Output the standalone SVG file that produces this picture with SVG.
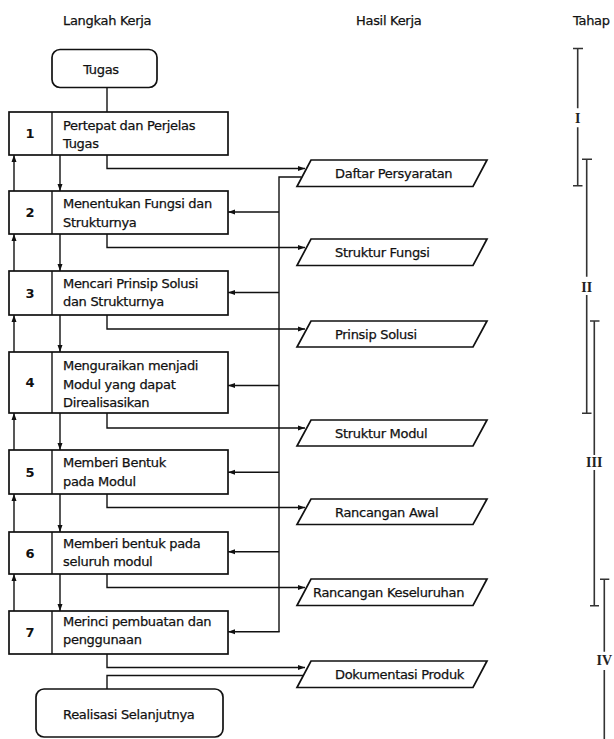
<svg xmlns="http://www.w3.org/2000/svg" width="614" height="739" viewBox="0 0 614 739">
<style>
  .t { font-family: "DejaVu Sans", Verdana, sans-serif; font-size: 13px; letter-spacing: -0.3px; fill: #111; stroke: #111; stroke-width: 0.25; }
  .num { font-family: "DejaVu Sans", Verdana, sans-serif; font-size: 13px; font-weight: bold; fill: #111; text-anchor: middle; }
  .rom { font-family: "Liberation Serif", "Times New Roman", serif; font-size: 14px; font-weight: bold; fill: #222; text-anchor: middle; }
  .box { fill: #fff; stroke: #111; stroke-width: 1.7; }
  .ln { fill: none; stroke: #111; stroke-width: 1.4; }
  .ar { fill: none; stroke: #111; stroke-width: 1.4; marker-end: url(#ah); }
  .tp { fill: none; stroke: #333; stroke-width: 1.6; }
</style>
<defs>
  <marker id="ah" markerUnits="userSpaceOnUse" markerWidth="8" markerHeight="6" refX="7" refY="3" orient="auto">
    <path d="M0,0.5 L7,3 L0,5.5 z" fill="#111"/>
  </marker>
</defs>
<rect width="614" height="739" fill="#fff"/>

<g id="headers">
  <text class="t" x="63" y="25">Langkah Kerja</text>
  <text class="t" x="356" y="25">Hasil Kerja</text>
  <text class="t" x="573" y="25">Tahap</text>
</g>

<g id="connectors">
  <line class="ln" x1="107" y1="87.5" x2="107" y2="112"/>
  <polyline class="ar" points="107,155 107,168.5 305,168.5"/>
  <polyline class="ar" points="107,234 107,247.5 305,247.5"/>
  <polyline class="ar" points="107,315 107,329 305,329"/>
  <polyline class="ar" points="107,413 107,428 305,428"/>
  <polyline class="ar" points="107,494 107,507.5 305,507.5"/>
  <polyline class="ar" points="107,574 107,587.5 305,587.5"/>
  <polyline class="ar" points="107,654 107,667.5 305,667.5"/>
  <polyline class="ln" points="107,689 107,675.5 303,675.5"/>
  <polyline class="ln" points="301.5,177 279,177 279,631.7"/>
  <line class="ar" x1="279" y1="212" x2="228" y2="212"/>
  <line class="ar" x1="279" y1="292.5" x2="228" y2="292.5"/>
  <line class="ar" x1="279" y1="385.5" x2="228" y2="385.5"/>
  <line class="ar" x1="279" y1="472.3" x2="228" y2="472.3"/>
  <line class="ar" x1="279" y1="551.7" x2="228" y2="551.7"/>
  <line class="ar" x1="279.7" y1="631.7" x2="228" y2="631.7"/>
  <line class="ar" x1="14" y1="191" x2="14" y2="155"/>
  <line class="ar" x1="14" y1="271" x2="14" y2="234"/>
  <line class="ar" x1="14" y1="352" x2="14" y2="315"/>
  <line class="ar" x1="14" y1="450" x2="14" y2="413"/>
  <line class="ar" x1="14" y1="532" x2="14" y2="494"/>
  <line class="ar" x1="14" y1="611" x2="14" y2="574"/>
  <line class="ar" x1="60" y1="155" x2="60" y2="191"/>
  <line class="ar" x1="60" y1="234" x2="60" y2="271"/>
  <line class="ar" x1="60" y1="315" x2="60" y2="352"/>
  <line class="ar" x1="60" y1="413" x2="60" y2="450"/>
  <line class="ar" x1="60" y1="494" x2="60" y2="532"/>
  <line class="ar" x1="60" y1="574" x2="60" y2="611"/>
</g>

<g id="tugas">
  <rect class="box" x="52" y="49.5" width="105" height="38" rx="8"/>
  <text class="t" x="101" y="73.5" text-anchor="middle">Tugas</text>
</g>

<g id="step1">
  <rect class="box" x="9" y="112" width="219" height="43"/>
  <line class="ln" x1="52" y1="112" x2="52" y2="155"/>
  <text class="num" x="30" y="138">1</text>
  <text class="t" x="63" y="130">Pertepat dan Perjelas</text>
  <text class="t" x="63" y="148">Tugas</text>
</g>
<g id="step2">
  <rect class="box" x="9" y="191" width="219" height="43"/>
  <line class="ln" x1="52" y1="191" x2="52" y2="234"/>
  <text class="num" x="30" y="217">2</text>
  <text class="t" x="63" y="208">Menentukan Fungsi dan</text>
  <text class="t" x="63" y="226.5">Strukturnya</text>
</g>
<g id="step3">
  <rect class="box" x="9" y="271" width="219" height="44"/>
  <line class="ln" x1="52" y1="271" x2="52" y2="315"/>
  <text class="num" x="30" y="297.5">3</text>
  <text class="t" x="63" y="287.5">Mencari Prinsip Solusi</text>
  <text class="t" x="63" y="306">dan Strukturnya</text>
</g>
<g id="step4">
  <rect class="box" x="9" y="352" width="219" height="61"/>
  <line class="ln" x1="52" y1="352" x2="52" y2="413"/>
  <text class="num" x="30" y="387">4</text>
  <text class="t" x="63" y="370">Menguraikan menjadi</text>
  <text class="t" x="63" y="388.5">Modul yang dapat</text>
  <text class="t" x="63" y="407">Direalisasikan</text>
</g>
<g id="step5">
  <rect class="box" x="9" y="450" width="219" height="44"/>
  <line class="ln" x1="52" y1="450" x2="52" y2="494"/>
  <text class="num" x="30" y="476.5">5</text>
  <text class="t" x="63" y="467">Memberi Bentuk</text>
  <text class="t" x="63" y="486">pada Modul</text>
</g>
<g id="step6">
  <rect class="box" x="9" y="532" width="219" height="42"/>
  <line class="ln" x1="52" y1="532" x2="52" y2="574"/>
  <text class="num" x="30" y="557.5">6</text>
  <text class="t" x="63" y="547.5">Memberi bentuk pada</text>
  <text class="t" x="63" y="566">seluruh modul</text>
</g>
<g id="step7">
  <rect class="box" x="9" y="611" width="219" height="43"/>
  <line class="ln" x1="52" y1="611" x2="52" y2="654"/>
  <text class="num" x="30" y="637">7</text>
  <text class="t" x="63" y="626">Merinci pembuatan dan</text>
  <text class="t" x="63" y="644">penggunaan</text>
</g>

<g id="realisasi">
  <rect class="box" x="36" y="689" width="187" height="48" rx="8"/>
  <text class="t" x="63" y="719">Realisasi Selanjutnya</text>
</g>

<g id="hasil-daftar">
  <polygon class="box" points="311,160 487,160 473,186.5 297,186.5"/>
  <text class="t" x="335" y="178">Daftar Persyaratan</text>
</g>
<g id="hasil-fungsi">
  <polygon class="box" points="311,239 487,239 473,265.5 297,265.5"/>
  <text class="t" x="335" y="257">Struktur Fungsi</text>
</g>
<g id="hasil-prinsip">
  <polygon class="box" points="311,321 487,321 473,347 297,347"/>
  <text class="t" x="335" y="338.5">Prinsip Solusi</text>
</g>
<g id="hasil-modul">
  <polygon class="box" points="311,420 487,420 473,446 297,446"/>
  <text class="t" x="335" y="437.5">Struktur Modul</text>
</g>
<g id="hasil-awal">
  <polygon class="box" points="311,499 487,499 473,524.5 297,524.5"/>
  <text class="t" x="335" y="516.5">Rancangan Awal</text>
</g>
<g id="hasil-keseluruhan">
  <polygon class="box" points="311,579 487,579 473,605.5 297,605.5"/>
  <text class="t" x="313" y="597">Rancangan Keseluruhan</text>
</g>
<g id="hasil-dokumentasi">
  <polygon class="box" points="311,661 487,661 473,687.5 297,687.5"/>
  <text class="t" x="335" y="679">Dokumentasi Produk</text>
</g>

<g id="tahap">
  <path class="tp" d="M577.7,48.5 V108.3 M577.7,127.3 V185.7 M573,48.5 H583 M573,185.7 H582.5"/>
  <text class="rom" x="577.7" y="123">I</text>
  <path class="tp" d="M586.7,159.3 V276.7 M586.7,295 V413.3 M582,159.3 H592 M582,413.3 H591.5"/>
  <text class="rom" x="586.7" y="291.5">II</text>
  <path class="tp" d="M594.3,321 V455 M594.3,470 V605.7 M590,321 H599.5 M590,605.7 H599"/>
  <text class="rom" x="594.3" y="466.5">III</text>
  <path class="tp" d="M604.3,579.3 V651.7 M604.3,670 V739 M600,579.3 H609.3"/>
  <text class="rom" x="604.3" y="665">IV</text>
</g>
</svg>
